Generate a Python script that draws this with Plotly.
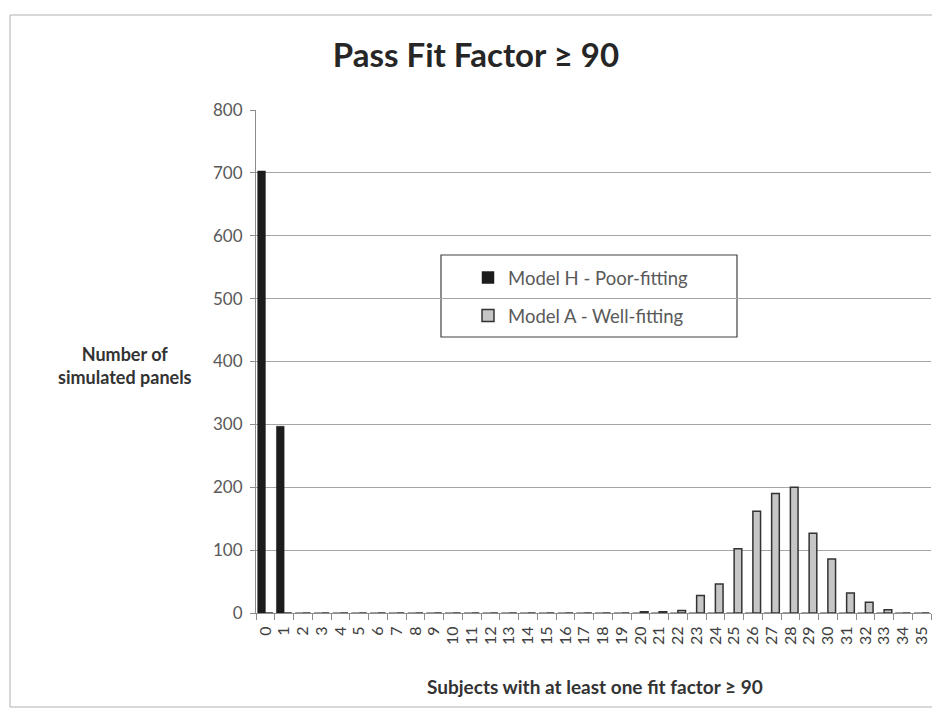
import plotly.graph_objects as go

categories = [str(i) for i in range(36)]
model_h = [703, 297] + [0] * 34
model_a = [0] * 20 + [2, 2, 4, 28, 46, 102, 162, 190, 200, 127, 86, 32, 17, 5, 0, 0]
series_names = ["Model H - Poor-fitting", "Model A - Well-fitting"]
y_ticks = [0, 100, 200, 300, 400, 500, 600, 700, 800]

FONT = "Lato"
GRAY = "#595959"

# the page body adds an 8px margin, so the figure is shifted by OFF px
OFF = 8
W, H = 940 - OFF, 715 - OFF
L, R = 256 - OFF, 9
T, B = 110 - OFF, H - (613 - OFF)
PW = W - L - R
PH = H - T - B


def px(x):
    return (x - OFF - L) / PW


def py(y):
    return (H - B - (y - OFF)) / PH


fig = go.Figure()
fig.add_trace(go.Bar(
    x=categories, y=model_h, name=series_names[0],
    marker=dict(color="#1c1c1c", line=dict(color="#1c1c1c", width=0.5)),
    legendgroup="h",
))
fig.add_trace(go.Bar(
    x=categories, y=model_a, name=series_names[1],
    marker=dict(color="#c6c6c6", line=dict(color="#333333", width=1.5)),
    legendgroup="a",
))

fig.update_layout(
    width=W, height=H,
    margin=dict(l=L, r=R, t=T, b=B),
    paper_bgcolor="white", plot_bgcolor="white",
    barmode="group", bargap=0.18, bargroupgap=0.0,
    title=dict(text="<b>Pass Fit Factor ≥ 90</b>", x=(476 - OFF) / W, xref="container",
               y=1 - (55 - OFF) / H, yref="container", xanchor="center", yanchor="middle",
               font=dict(family=FONT, size=33, color="#262626")),
    showlegend=True,
    legend=dict(x=px(468), y=py(259), xanchor="left", yanchor="top",
                bgcolor="rgba(0,0,0,0)", borderwidth=0,
                traceorder="grouped", tracegroupgap=11,
                font=dict(family=FONT, size=18.5, color=GRAY)),
    xaxis=dict(
        type="category", categoryorder="array", categoryarray=categories,
        tickmode="linear", tick0=0, dtick=1,
        tickangle=-90, tickson="boundaries", ticks="outside", ticklen=6,
        tickcolor="#8c8c8c", showline=True, linecolor="#8c8c8c", linewidth=1,
        showgrid=False, ticklabelstandoff=6,
        tickfont=dict(family=FONT, size=16, color="#404040"),
    ),
    yaxis=dict(
        range=[0, 800], tickvals=y_ticks, ticks="outside", ticklen=5,
        tickcolor="#8c8c8c", showline=True, linecolor="#8c8c8c", linewidth=1,
        showgrid=True, gridcolor="#a6a6a6", gridwidth=1, zeroline=False,
        ticklabelstandoff=4,
        tickfont=dict(family=FONT, size=17, color=GRAY),
    ),
    shapes=[
        dict(type="rect", xref="paper", yref="paper",
             x0=px(441), x1=px(737), y0=py(337), y1=py(255),
             line=dict(color="#404040", width=1.2), fillcolor="white", layer="below"),
        dict(type="rect", xref="paper", yref="paper",
             x0=px(10), x1=px(950), y0=py(707), y1=py(15),
             line=dict(color="#b0b0b0", width=1), layer="below"),
    ],
    annotations=[
        dict(text="<b>Number of<br>simulated panels</b>", xref="paper", yref="paper",
             x=px(125), y=py(365), showarrow=False,
             xanchor="center", yanchor="middle", align="center",
             font=dict(family=FONT, size=18, color="#333333")),
        dict(text="<b>Subjects with at least one fit factor ≥ 90</b>", xref="paper", yref="paper",
             x=px(595), y=py(686), showarrow=False,
             xanchor="center", yanchor="middle",
             font=dict(family=FONT, size=19, color="#333333")),
    ],
)

fig.write_html("out.html")
